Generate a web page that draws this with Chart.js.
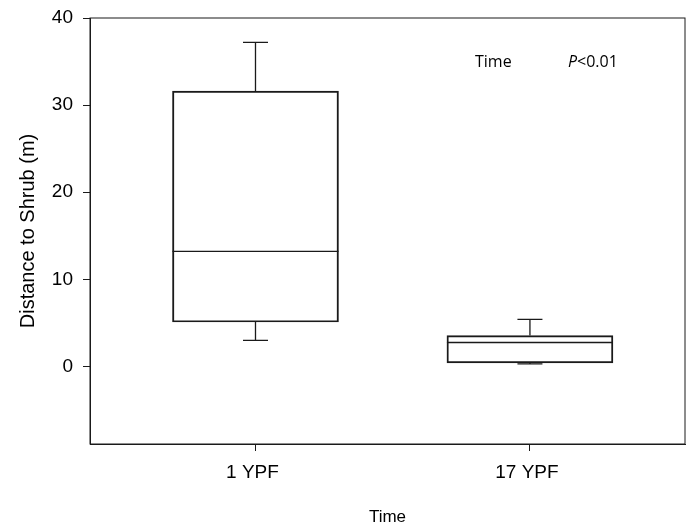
<!DOCTYPE html>
<html>
<head>
<meta charset="utf-8">
<script src="https://cdn.jsdelivr.net/npm/chart.js@4"></script>
<style>
  html, body { margin: 0; padding: 0; background: #fff; }
  #wrap { width: 697px; height: 526px; }
</style>
</head>
<body>
<div id="wrap"><canvas id="caja"></canvas></div>
<script>
// datos
const categorias = ['1 YPF', '17 YPF'];
const posiciones = [1, 2];
const bigoteInf = [3.0, 0.3];
const q1 = [5.1, 0.4];
const mediana = [13.2, 2.75];
const q3 = [31.6, 3.55];
const bigoteSup = [37.2, 5.4];
const ticksY = [0, 10, 20, 30, 40];

const fuente = "'Liberation Sans', Arial, sans-serif";
const fuenteNota = "'Open Sans', sans-serif";

// marco, medianas y bigotes usando las escalas de Chart.js
const cajaPlugin = {
  id: 'cajaPlugin',
  afterDatasetsDraw(chart) {
    const { ctx, chartArea, scales: { x, y } } = chart;
    ctx.save();
    ctx.strokeStyle = '#1a1a1a';
    ctx.lineWidth = 1.3;
    const anchoCaja = 166;
    const anchoTapa = 25;
    posiciones.forEach((p, i) => {
      const cx = x.getPixelForValue(p);
      ctx.beginPath();
      // mediana
      ctx.moveTo(cx - anchoCaja / 2, y.getPixelForValue(mediana[i]));
      ctx.lineTo(cx + anchoCaja / 2, y.getPixelForValue(mediana[i]));
      // bigote superior
      ctx.moveTo(cx, y.getPixelForValue(q3[i]));
      ctx.lineTo(cx, y.getPixelForValue(bigoteSup[i]));
      ctx.moveTo(cx - anchoTapa / 2, y.getPixelForValue(bigoteSup[i]));
      ctx.lineTo(cx + anchoTapa / 2, y.getPixelForValue(bigoteSup[i]));
      // bigote inferior
      ctx.moveTo(cx, y.getPixelForValue(q1[i]));
      ctx.lineTo(cx, y.getPixelForValue(bigoteInf[i]));
      ctx.moveTo(cx - anchoTapa / 2, y.getPixelForValue(bigoteInf[i]));
      ctx.lineTo(cx + anchoTapa / 2, y.getPixelForValue(bigoteInf[i]));
      ctx.stroke();
    });
    // marco completo
    ctx.lineWidth = 1;
    ctx.strokeRect(chartArea.left, chartArea.top, chartArea.right - chartArea.left, chartArea.bottom - chartArea.top);
    // texto de la prueba
    ctx.fillStyle = '#000';
    ctx.textBaseline = 'middle';
    ctx.font = '16px ' + fuenteNota;
    ctx.fillText('Time', 475, 62);
    ctx.font = 'italic 16px ' + fuenteNota;
    ctx.fillText('P', 568, 62);
    const w = ctx.measureText('P').width;
    ctx.font = '16px ' + fuenteNota;
    ctx.fillText('<0.01', 568 + w, 62);
    ctx.restore();
  }
};

new Chart(document.getElementById('caja'), {
  type: 'bar',
  data: {
    datasets: [{
      data: posiciones.map((p, i) => ({ x: p, y: [q1[i], q3[i]] })),
      backgroundColor: 'rgba(0,0,0,0)',
      borderColor: '#1a1a1a',
      borderWidth: 1.3,
      borderSkipped: false,
      barThickness: 166
    }]
  },
  options: {
    responsive: true,
    maintainAspectRatio: false,
    animation: false,
    layout: { padding: { left: 0, top: 18, right: 12, bottom: 0 } },
    plugins: { legend: { display: false }, tooltip: { enabled: false } },
    scales: {
      x: {
        type: 'linear',
        offset: false,
        min: 0.397,
        max: 2.565,
        afterBuildTicks: s => { s.ticks = posiciones.map(v => ({ value: v })); },
        afterFit: s => { s.height = 82; },
        grid: { offset: false, drawOnChartArea: false, drawTicks: true, tickLength: 7, color: '#1a1a1a' },
        border: { display: true, color: '#1a1a1a' },
        ticks: {
          padding: 10,
          labelOffset: -3,
          color: '#000',
          font: { family: fuente, size: 19 },
          callback: v => categorias[posiciones.indexOf(v)]
        },
        title: {
          display: true,
          text: 'Time',
          color: '#000',
          font: { family: fuente, size: 17, lineHeight: 1 },
          padding: { top: 0, bottom: 0 }
        }
      },
      y: {
        min: -8.9,
        max: 40,
        afterBuildTicks: s => { s.ticks = ticksY.map(v => ({ value: v })); },
        afterFit: s => { s.width = 90; s.paddingTop = 0; s.paddingBottom = 0; },
        grid: { drawOnChartArea: false, drawTicks: true, tickLength: 7, color: '#1a1a1a' },
        border: { display: true, color: '#1a1a1a' },
        ticks: {
          padding: 10,
          color: '#000',
          font: { family: fuente, size: 19 }
        },
        title: {
          display: true,
          text: 'Distance to Shrub (m)',
          color: '#000',
          font: { family: fuente, size: 20, lineHeight: 1 },
          padding: { top: 18, bottom: 0 }
        }
      }
    }
  },
  plugins: [cajaPlugin]
});
</script>
</body>
</html>
